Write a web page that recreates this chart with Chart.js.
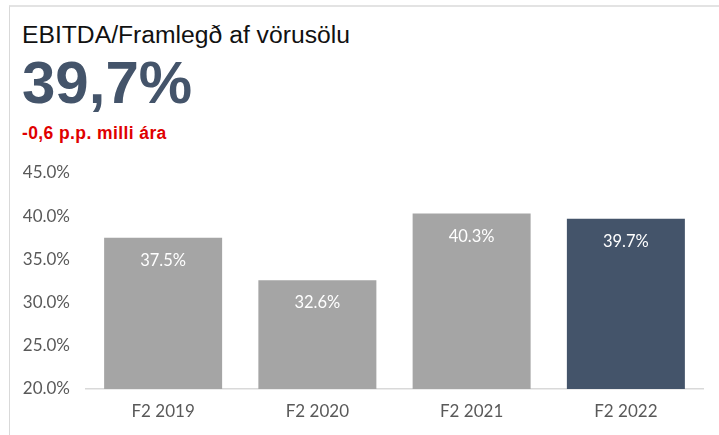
<!DOCTYPE html>
<html>
<head>
<meta charset="utf-8">
<script src="https://cdn.jsdelivr.net/npm/chart.js@4/dist/chart.umd.min.js"></script>
<style>
  html, body { margin: 0; padding: 0; background: #fff; }
  #wrap { position: relative; width: 719px; height: 435px; overflow: hidden; }
  #frame { position: absolute; left: 9px; top: 5px; right: -10px; bottom: -10px; border-left: 1px solid #d9d9d9; border-top: 2px solid #e3e3e3; }
  .txt { position: absolute; left: 22px; font-family: "Liberation Sans", Arial, sans-serif; white-space: nowrap; }
  #title { top: 21px; font-size: 24.7px; color: #111; }
  #big { top: 48px; font-size: 60px; font-weight: bold; color: #44546a; }
  #delta { top: 123px; font-size: 17.5px; font-weight: bold; color: #e00000; letter-spacing: 0.4px; }
  #c { position: absolute; left: 0; top: 0; }
</style>
</head>
<body>
<div id="wrap">
  <div id="frame"></div>
  <div class="txt" id="title">EBITDA/Framlegð af vörusölu</div>
  <div class="txt" id="big">39,7%</div>
  <div class="txt" id="delta">-0,6 p.p. milli ára</div>
  <canvas id="c" width="719" height="435"></canvas>
</div>
<script>
const categories = ['F2 2019', 'F2 2020', 'F2 2021', 'F2 2022'];
const margins = [37.5, 32.6, 40.3, 39.7];
const barColors = ['#a5a5a5', '#a5a5a5', '#a5a5a5', '#44546a'];

const labelFont = 'Lato, "Open Sans", sans-serif';

// white value labels just inside the top of each bar
const insideLabels = {
  id: 'insideLabels',
  afterDatasetsDraw(chart){
    const ctx = chart.ctx;
    const meta = chart.getDatasetMeta(0);
    ctx.save();
    ctx.font = '16.5px ' + labelFont;
    ctx.fillStyle = '#ffffff';
    ctx.textAlign = 'center';
    ctx.textBaseline = 'middle';
    meta.data.forEach((bar, i)=>{
      ctx.fillText(margins[i].toFixed(1) + '%', bar.x, bar.y + 23);
    });
    ctx.restore();
  }
};

new Chart(document.getElementById('c'), {
  type: 'bar',
  data: {
    labels: categories,
    datasets: [{
      data: margins,
      backgroundColor: barColors,
      borderWidth: 0,
      categoryPercentage: 1,
      barPercentage: 0.765
    }]
  },
  options: {
    responsive: false,
    animation: false,
    layout: { padding: { top: 173, right: 16, bottom: 0, left: 0 } },
    plugins: { legend: { display: false }, tooltip: { enabled: false } },
    scales: {
      x: {
        grid: { display: false, drawTicks: false },
        border: { display: true, color: '#d9d9d9', width: 1.5 },
        ticks: { color: '#595959', font: { family: labelFont, size: 17 }, padding: 12 },
        afterFit(scale){ scale.height = 46; }
      },
      y: {
        min: 20, max: 45,
        grid: { display: false, drawTicks: false },
        border: { display: false },
        ticks: {
          stepSize: 5,
          color: '#595959',
          font: { family: labelFont, size: 17 },
          padding: 16,
          callback: v => v.toFixed(1) + '%'
        },
        afterFit(scale){ scale.width = 86; }
      }
    }
  },
  plugins: [insideLabels]
});
</script>
</body>
</html>
